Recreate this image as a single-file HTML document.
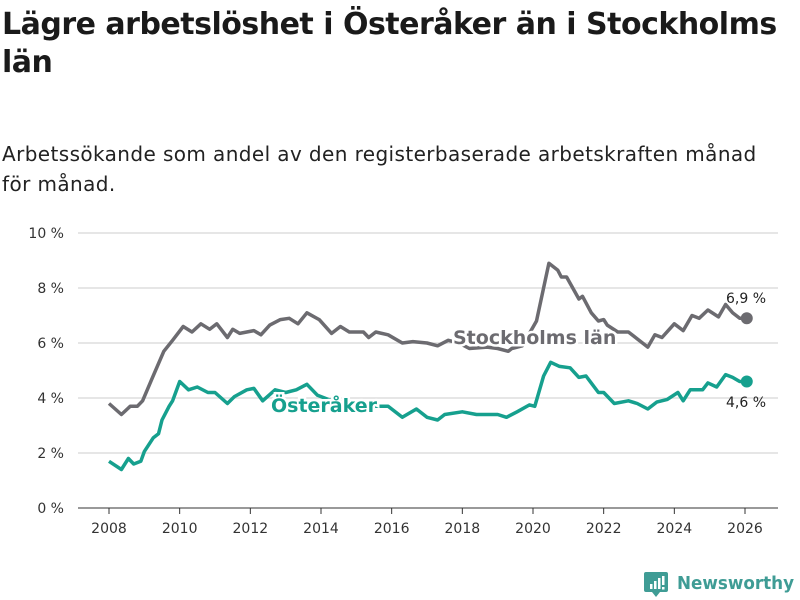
<!DOCTYPE html>
<html><head><meta charset="utf-8">
<style>
body{margin:0;width:800px;height:600px;background:#fff;font-family:"Liberation Sans","DejaVu Sans",sans-serif;overflow:hidden;position:relative}
h1{position:absolute;left:2px;top:6px;margin:0;font-size:30px;line-height:38px;font-weight:bold;color:#1a1a1a;width:795px;font-family:"DejaVu Sans",sans-serif;letter-spacing:-0.5px}
.sub{position:absolute;left:2px;top:139px;font-size:20px;line-height:30px;color:#222;font-family:"DejaVu Sans",sans-serif;width:785px;letter-spacing:0.4px}
svg{position:absolute;left:0;top:0}
</style></head><body>
<h1>Lägre arbetslöshet i Österåker än i Stockholms län</h1>
<div class="sub">Arbetssökande som andel av den registerbaserade arbetskraften månad för månad.</div>
<svg id="c" width="800" height="600"></svg>
<script>
const yTicks=[0,2,4,6,8,10];
const xTicks=[2008,2010,2012,2014,2016,2018,2020,2022,2024,2026];
const sthlmDates=[2008.0,2008.35,2008.6,2008.8,2008.95,2009.2,2009.3,2009.55,2009.8,2010.1,2010.35,2010.6,2010.85,2011.05,2011.35,2011.5,2011.7,2012.1,2012.3,2012.55,2012.85,2013.1,2013.35,2013.6,2013.95,2014.3,2014.55,2014.8,2015.2,2015.35,2015.55,2015.9,2016.3,2016.6,2017.0,2017.3,2017.6,2017.9,2018.2,2018.7,2019.0,2019.3,2019.4,2019.7,2020.1,2020.45,2020.7,2020.8,2020.95,2021.3,2021.4,2021.65,2021.85,2022.0,2022.1,2022.4,2022.7,2022.9,2023.25,2023.45,2023.65,2024.0,2024.25,2024.5,2024.7,2024.95,2025.25,2025.45,2025.65,2025.85,2026.05];
const sthlmValues=[3.8,3.4,3.7,3.7,3.9,4.65,4.95,5.7,6.1,6.6,6.4,6.7,6.5,6.7,6.2,6.5,6.35,6.45,6.3,6.65,6.85,6.9,6.7,7.1,6.85,6.35,6.6,6.4,6.4,6.2,6.4,6.3,6.0,6.05,6.0,5.9,6.1,6.0,5.8,5.85,5.8,5.7,5.8,5.9,6.8,8.9,8.65,8.4,8.4,7.6,7.7,7.1,6.8,6.85,6.65,6.4,6.4,6.2,5.85,6.3,6.2,6.7,6.45,7.0,6.9,7.2,6.95,7.4,7.1,6.9,6.9];
const ostDates=[2008.0,2008.35,2008.55,2008.7,2008.9,2009.0,2009.25,2009.4,2009.5,2009.7,2009.8,2010.0,2010.25,2010.5,2010.8,2011.0,2011.35,2011.55,2011.9,2012.1,2012.35,2012.7,2013.0,2013.3,2013.6,2013.9,2014.3,2014.8,2015.2,2015.6,2015.9,2016.3,2016.7,2017.0,2017.3,2017.5,2018.0,2018.4,2019.0,2019.25,2019.55,2019.9,2020.05,2020.3,2020.5,2020.75,2021.05,2021.3,2021.5,2021.85,2022.0,2022.3,2022.7,2022.95,2023.25,2023.5,2023.8,2024.1,2024.25,2024.45,2024.8,2024.95,2025.2,2025.45,2025.65,2025.85,2026.05];
const ostValues=[1.7,1.4,1.8,1.6,1.7,2.05,2.55,2.7,3.2,3.7,3.9,4.6,4.3,4.4,4.2,4.2,3.8,4.05,4.3,4.35,3.9,4.3,4.2,4.3,4.5,4.1,3.9,3.8,3.7,3.7,3.7,3.3,3.6,3.3,3.2,3.4,3.5,3.4,3.4,3.3,3.5,3.75,3.7,4.8,5.3,5.15,5.1,4.75,4.8,4.2,4.2,3.8,3.9,3.8,3.6,3.85,3.95,4.2,3.9,4.3,4.3,4.55,4.4,4.85,4.75,4.6,4.6];
const NS="http://www.w3.org/2000/svg";
const svg=document.getElementById('c');
const X=v=>109+(v-2008)*(745-109)/18;
const Y=v=>508-v*27.5;
function mk(t,a,p){const e=document.createElementNS(NS,t);for(const k in a)e.setAttribute(k,a[k]);(p||svg).appendChild(e);return e;}
yTicks.forEach(t=>{
 const l=mk('line',{x1:78,x2:778,y1:Y(t),y2:Y(t),stroke:t===0?'#333':'#ddd','stroke-width':t===0?1:1.5});
 
 
 const tx=mk('text',{x:64,y:Y(t)+5,'text-anchor':'end','font-size':'14',fill:'#333','font-family':'DejaVu Sans,sans-serif'});
 tx.textContent=t+' %';
 
 
});
xTicks.forEach(t=>{
 const l=mk('line',{x1:X(t),x2:X(t),y1:508,y2:514,stroke:'#333'});
 
 
 const tx=mk('text',{x:X(t),y:533,'text-anchor':'middle','font-size':'14',fill:'#333','font-family':'DejaVu Sans,sans-serif'});
 tx.textContent=t;
 
 
});
function line(d,v,col,name){
 const p=mk('path',{d:d.map((x,i)=>(i?'L':'M')+X(x).toFixed(1)+','+Y(v[i]).toFixed(1)).join(''),fill:'none',stroke:col,'stroke-width':3.5,'stroke-linejoin':'round'});
 
 
 const n=d.length-1;
 const c=mk('circle',{cx:X(d[n]),cy:Y(v[n]),r:6,fill:col});
 
 
}
line(sthlmDates,sthlmValues,'#6c6b70','stockholm-line');
line(ostDates,ostValues,'#16a08e','osteraker-line');
function lab(txt,x,y,col,size,bold,name,anchor){
 const t=mk('text',{x:x,y:y,fill:col,'font-size':size,'font-weight':bold?'bold':'normal','font-family':'DejaVu Sans,sans-serif',stroke:'#fff','stroke-width':bold?5:0,'paint-order':'stroke','text-anchor':anchor||'start'});
 t.textContent=txt;
 
 
}
lab('Stockholms län',453,344,'#6c6b70',19,true,'stockholm-label');
lab('Österåker',271,412,'#16a08e',19,true,'osteraker-label');
const ls=sthlmValues.length-1, lo=ostValues.length-1;
lab(sthlmValues[ls].toFixed(1).replace('.',',')+' %',746,303,'#222',14,false,'stockholm-value-label','middle');
lab(ostValues[lo].toFixed(1).replace('.',',')+' %',746,407,'#222',14,false,'osteraker-value-label','middle');
</script>
<svg width="800" height="600" style="pointer-events:none">
<path d="M646 572 h20 a2 2 0 0 1 2 2 v16 a2 2 0 0 1 -2 2 h-6 l-4 5 l-4 -5 h-6 a2 2 0 0 1 -2 -2 v-16 a2 2 0 0 1 2 -2z" fill="#3f9c95"/>
<rect x="650" y="584" width="2.5" height="5" fill="#fff"/><rect x="654" y="581" width="2.5" height="8" fill="#fff"/><rect x="658" y="578" width="2.5" height="11" fill="#fff"/><rect x="662" y="576" width="2.5" height="9" fill="#fff"/><rect x="662" y="587" width="2.5" height="2.5" fill="#fff"/>
<text x="677" y="589" font-size="17.5" font-weight="bold" fill="#3f9c95" font-family="DejaVu Sans,sans-serif" textLength="117" lengthAdjust="spacingAndGlyphs">Newsworthy</text>
</svg>
</body></html>
